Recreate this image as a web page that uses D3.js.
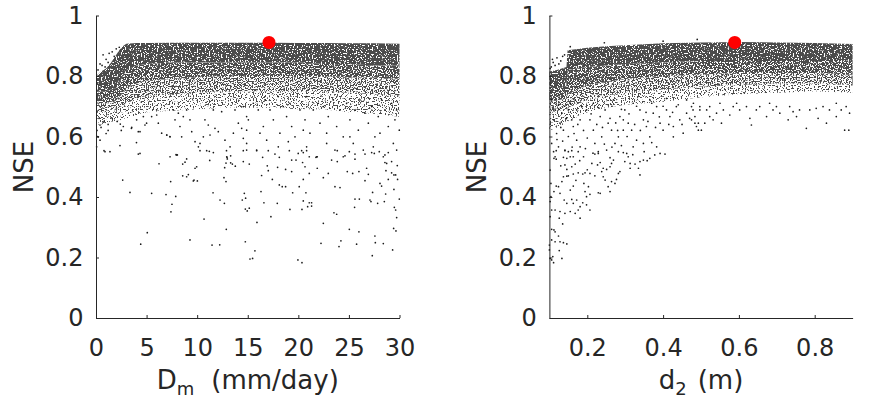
<!DOCTYPE html>
<html>
<head>
<meta charset="utf-8">
<script src="https://cdnjs.cloudflare.com/ajax/libs/d3/7.8.5/d3.min.js"></script>
<style>
  body { margin: 0; background: white; }
  text { font-family: "DejaVu Sans", sans-serif; fill: #262626; }
</style>
</head>
<body>
<svg width="869" height="402"></svg>
<script>
// ticks
const nseTicks = [0, 0.2, 0.4, 0.6, 0.8, 1];
const dmTicks = [0, 5, 10, 15, 20, 25, 30];
const d2Ticks = [0.2, 0.4, 0.6, 0.8];

// best parameter set (red marker)
const dmBest = [17.1, 0.911];
const d2Best = [0.589, 0.911];

// panel 1: outline of the dense cloud, NSE of each density edge along D_m
const dmBandX     = [0, 0.5, 1, 1.5, 2, 2.5, 3, 4, 5, 7.5, 10, 12.5, 15, 17.5, 20, 22.5, 25, 27.5, 30];
const dmBandTop   = [0.80, 0.815, 0.825, 0.845, 0.87, 0.895, 0.907, 0.909, 0.909, 0.91, 0.91, 0.91, 0.91, 0.91, 0.909, 0.909, 0.908, 0.908, 0.907];
const dmBandCore  = [0.75, 0.75, 0.75, 0.755, 0.76, 0.79, 0.82, 0.835, 0.84, 0.845, 0.845, 0.845, 0.845, 0.845, 0.845, 0.84, 0.84, 0.835, 0.835];
const dmBandDense = [0.71, 0.71, 0.71, 0.715, 0.72, 0.74, 0.76, 0.775, 0.785, 0.79, 0.795, 0.80, 0.80, 0.80, 0.80, 0.80, 0.795, 0.795, 0.79];
const dmBandMid   = [0.68, 0.68, 0.685, 0.69, 0.69, 0.70, 0.71, 0.725, 0.735, 0.74, 0.745, 0.75, 0.75, 0.75, 0.75, 0.75, 0.745, 0.74, 0.735];
const dmBandLow   = [0.64, 0.64, 0.645, 0.65, 0.65, 0.655, 0.66, 0.67, 0.68, 0.685, 0.69, 0.695, 0.695, 0.695, 0.69, 0.69, 0.68, 0.675, 0.665];

// panel 1: scattered runs below the cloud [D_m, NSE]
const dmPoints = [
  [0.79,0.553],[1.38,0.550],[4.18,0.542],[7.91,0.540],[8.04,0.539],[10.28,0.553],[10.94,0.553],[11.2,0.551],[11.6,0.547],[12.9,0.553],
  [14.56,0.553],[6.23,0.510],[8.57,0.509],[8.8,0.515],[8.96,0.526],[9.95,0.500],[9.79,0.495],[11.24,0.521],[12.95,0.531],[12.98,0.526],
  [13.31,0.536],[13.31,0.513],[13.48,0.509],[13.77,0.502],[12.85,0.512],[12.72,0.497],[2.64,0.456],[7.38,0.451],[8.57,0.470],[8.96,0.467],
  [9.13,0.474],[9.62,0.453],[9.69,0.456],[10.02,0.453],[12.65,0.464],[12.85,0.451],[3.36,0.415],[5.5,0.412],[6.92,0.408],[7.88,0.402],
  [11.57,0.414],[12.26,0.390],[12.69,0.379],[7.51,0.376],[7.41,0.351],[10.68,0.327],[5.07,0.282],[4.42,0.244],[9.29,0.258],[11.47,0.241],
  [12.23,0.242],[12.88,0.293],
  [14.56,0.517],[15.15,0.509],[15.88,0.553],[16.47,0.531],[17.03,0.553],[17.69,0.542],[18.12,0.531],[19.11,0.553],[19.34,0.522],[19.77,0.522],
  [20.33,0.553],[20.49,0.547],[20.82,0.553],[21.08,0.533],[21.74,0.531],[21.87,0.533],[23.29,0.522],[23.85,0.553],[23.85,0.517],[24.61,0.536],
  [25.04,0.550],[25.6,0.542],[25.6,0.525],[26.59,0.542],[27.25,0.547],[27.51,0.544],[28.0,0.550],[28.56,0.539],[28.89,0.547],[28.56,0.514],
  [28.73,0.511],[29.78,0.504],[29.22,0.517],[16.93,0.503],[17.03,0.487],[17.95,0.498],[18.74,0.491],[19.34,0.484],[20.42,0.514],[20.66,0.500],
  [21.08,0.478],[21.87,0.495],[22.96,0.478],[22.47,0.464],[24.84,0.484],[25.37,0.478],[25.99,0.484],[26.75,0.495],[26.92,0.475],[26.59,0.454],
  [28.66,0.487],[29.22,0.480],[29.45,0.473],[29.62,0.473],[29.81,0.458],[28.89,0.458],[28.07,0.445],[28.23,0.436],[16.37,0.471],[17.43,0.458],
  [18.12,0.440],[18.41,0.434],[18.74,0.434],[20.09,0.434],[20.49,0.458],[19.44,0.414],[20.75,0.414],[23.62,0.434],[24.12,0.431],[27.34,0.415],
  [28.63,0.410],[29.45,0.425],[16.31,0.418],[14.66,0.412],[14.79,0.396],[14.46,0.390],[16.6,0.381],[17.92,0.379],[19.17,0.359],[20.36,0.359],
  [20.49,0.387],[20.92,0.368],[21.08,0.381],[21.31,0.381],[21.31,0.370],[25.6,0.393],[26.03,0.393],[25.56,0.366],[27.08,0.390],[27.18,0.385],
  [27.84,0.379],[28.5,0.385],[29.98,0.393],[14.76,0.360],[14.95,0.354],[15.15,0.363],[29.49,0.366],[29.62,0.357],[29.72,0.332],[23.52,0.348],
  [23.79,0.343],[15.91,0.316],[17.29,0.335],[22.47,0.313],[25.04,0.293],[25.99,0.285],[29.42,0.296],[29.65,0.288],[14.76,0.252],[15.71,0.222],
  [15.22,0.195],[15.48,0.197],[19.96,0.192],[20.36,0.183],[22.24,0.247],[24.21,0.255],[24.02,0.236],[25.76,0.244],[27.57,0.271],[27.61,0.249],
  [28.4,0.246],[29.32,0.225],[27.31,0.206],
  [0.395,0.638],[0.231,0.599],[0.066,0.566],[0.89,0.550],[2.70,0.633],[3.53,0.630],[4.02,0.655],[4.18,0.616],[4.68,0.666],[4.84,0.638],
  [5.50,0.666],[6.0,0.688],[6.16,0.644],[6.49,0.611],[6.99,0.605],[7.32,0.599],[7.64,0.688],[7.81,0.655],[8.14,0.677],[8.30,0.633],
  [8.63,0.666],[8.96,0.688],[9.29,0.655],[9.46,0.616],[9.79,0.583],[10.12,0.566],[10.28,0.577],[10.61,0.599],[10.77,0.655],[11.10,0.638],
  [11.27,0.605],[11.6,0.688],[11.76,0.627],[12.09,0.616],[12.42,0.682],[12.75,0.588],[12.92,0.533],[13.25,0.566],[13.58,0.611],[13.74,0.688],
  [14.07,0.644],[14.40,0.627],[14.56,0.594],[14.89,0.555],[15.06,0.655],[4.35,0.544],[7.32,0.533],[7.97,0.539],
  [14.56,0.699],[14.89,0.666],[15.55,0.710],[16.04,0.688],[16.54,0.633],[16.70,0.721],[17.20,0.688],[17.53,0.655],[18.02,0.732],[18.51,0.699],
  [18.84,0.666],[19.17,0.710],[19.34,0.633],[19.67,0.599],[20.16,0.688],[20.66,0.655],[20.82,0.732],[21.15,0.611],[21.48,0.688],[21.97,0.710],
  [22.14,0.644],[22.47,0.699],[22.96,0.666],[23.46,0.721],[23.79,0.633],[24.12,0.688],[24.44,0.599],[24.77,0.710],[25.10,0.655],[25.60,0.688],
  [25.93,0.621],[26.09,0.721],[26.59,0.677],[26.92,0.644],[27.25,0.699],[27.57,0.599],[27.90,0.666],[28.23,0.721],[28.56,0.688],[28.89,0.633],
  [29.22,0.710],[29.55,0.655],[29.72,0.688],[29.98,0.621],[14.89,0.577],[15.88,0.555],[16.87,0.588],[18.02,0.566],[19.01,0.583],[19.99,0.544],
  [20.82,0.566],[21.81,0.533],[22.80,0.577],[23.62,0.555],[24.44,0.533],[25.43,0.577],[26.42,0.555],[27.41,0.566],[28.40,0.533],[29.39,0.577],
  [14.89,0.621],[16.21,0.611],[18.18,0.611],[20.49,0.621],[22.80,0.611],[25.10,0.599],[28.07,0.611],[29.72,0.555],
  [0.1,0.62],[0.3,0.66],[0.5,0.63],[0.8,0.65],[1.2,0.64],[1.6,0.66],[2.1,0.65],[0.15,0.60],[1.0,0.61],[2.5,0.62],
  [0.4,0.588],[1.2,0.62],[2.4,0.641],[3.5,0.627],[4.35,0.616],[5.0,0.644],[6.0,0.671],[7.0,0.605],[7.3,0.60],[8.47,0.599],
  [2.37,0.570],[4.0,0.58],
  [0.4,0.84],[0.7,0.87],[1.0,0.855],[1.3,0.875],[1.6,0.88],[0.9,0.83],[2.0,0.89],[0.2,0.82],[1.2,0.845],[1.8,0.865],[2.3,0.895],[0.6,0.835]
];

// panel 2: outline of the dense cloud, NSE of each density edge along d2
const d2BandX     = [0.1, 0.12, 0.145, 0.148, 0.2, 0.25, 0.3, 0.4, 0.5, 0.6, 0.7, 0.8, 0.9];
const d2BandTop   = [0.815, 0.82, 0.83, 0.885, 0.893, 0.898, 0.902, 0.908, 0.911, 0.912, 0.911, 0.909, 0.906];
const d2BandCore  = [0.76, 0.76, 0.765, 0.82, 0.83, 0.835, 0.84, 0.845, 0.85, 0.85, 0.85, 0.85, 0.85];
const d2BandDense = [0.72, 0.72, 0.725, 0.74, 0.77, 0.78, 0.79, 0.80, 0.805, 0.81, 0.81, 0.81, 0.805];
const d2BandMid   = [0.68, 0.685, 0.69, 0.695, 0.72, 0.735, 0.745, 0.755, 0.765, 0.77, 0.775, 0.775, 0.77];
const d2BandLow   = [0.62, 0.63, 0.645, 0.65, 0.68, 0.695, 0.705, 0.715, 0.73, 0.74, 0.745, 0.75, 0.745];

// panel 2: scattered runs below the cloud [d2, NSE]
const d2Points = [
  [0.111,0.550],[0.118,0.553],[0.141,0.553],[0.150,0.550],[0.159,0.553],[0.176,0.550],[0.137,0.531],[0.146,0.528],[0.163,0.533],[0.118,0.525],
  [0.112,0.528],[0.130,0.503],[0.141,0.506],[0.146,0.491],[0.159,0.500],[0.168,0.509],[0.137,0.467],[0.133,0.451],[0.146,0.469],[0.163,0.476],
  [0.176,0.480],[0.163,0.436],[0.155,0.423],[0.188,0.476],[0.194,0.480],[0.207,0.478],[0.191,0.445],[0.203,0.434],[0.212,0.511],[0.220,0.542],
  [0.229,0.544],[0.227,0.506],[0.234,0.514],[0.242,0.495],[0.238,0.484],[0.251,0.491],[0.260,0.500],[0.264,0.511],[0.269,0.522],[0.282,0.550],
  [0.295,0.547],[0.299,0.517],[0.308,0.533],[0.313,0.511],[0.326,0.509],[0.339,0.517],[0.348,0.522],[0.358,0.520],[0.365,0.528],[0.378,0.539],
  [0.392,0.544],[0.405,0.542],[0.242,0.467],[0.247,0.456],[0.264,0.451],[0.255,0.434],[0.273,0.445],[0.277,0.458],[0.282,0.478],[0.286,0.484],
  [0.313,0.495],[0.335,0.495],[0.339,0.473],[0.112,0.418],[0.118,0.436],[0.124,0.434],[0.128,0.412],[0.139,0.390],[0.146,0.379],[0.159,0.392],
  [0.163,0.379],[0.172,0.390],[0.181,0.368],[0.188,0.381],[0.198,0.374],[0.207,0.357],[0.194,0.418],[0.207,0.409],[0.229,0.414],[0.234,0.412],
  [0.198,0.401],[0.176,0.357],[0.168,0.346],[0.181,0.330],[0.155,0.352],[0.141,0.346],[0.128,0.352],[0.115,0.357],[0.106,0.357],[0.126,0.330],
  [0.135,0.311],[0.106,0.293],[0.112,0.291],[0.115,0.285],[0.124,0.271],[0.106,0.258],[0.115,0.252],[0.128,0.252],[0.137,0.249],[0.146,0.245],
  [0.126,0.223],[0.109,0.203],[0.106,0.192],[0.111,0.183],[0.133,0.197],[0.102,0.489],[0.104,0.445],[0.104,0.401],[0.102,0.385],[0.102,0.335],
  [0.100,0.241],[0.100,0.225],[0.102,0.197],[0.260,0.418],
  [0.106,0.721],[0.115,0.688],[0.124,0.704],[0.111,0.655],[0.128,0.644],[0.119,0.610],[0.137,0.621],[0.106,0.577],[0.124,0.566],[0.141,0.555],
  [0.115,0.533],[0.155,0.533],[0.150,0.688],[0.159,0.655],[0.163,0.633],[0.172,0.588],[0.181,0.566],[0.190,0.533],[0.198,0.688],[0.207,0.655],
  [0.216,0.621],[0.220,0.577],[0.229,0.550],[0.238,0.599],[0.247,0.688],[0.255,0.644],[0.264,0.621],[0.273,0.577],[0.282,0.599],[0.286,0.666],
  [0.299,0.688],[0.308,0.644],[0.317,0.621],[0.321,0.566],[0.330,0.588],[0.339,0.688],[0.348,0.655],[0.356,0.633],[0.365,0.599],[0.374,0.677],
  [0.383,0.699],[0.392,0.644],[0.400,0.621],[0.409,0.688],[0.418,0.666],[0.427,0.633],[0.435,0.699],[0.444,0.655],[0.453,0.611],[0.462,0.677],
  [0.475,0.699],[0.484,0.644],[0.493,0.621],[0.497,0.688],[0.168,0.721],[0.216,0.710],[0.269,0.721],[0.321,0.710],[0.365,0.721],[0.409,0.726],
  [0.462,0.721],[0.181,0.655],[0.234,0.666],[0.295,0.621],[0.251,0.555],[0.304,0.544],[0.348,0.577],[0.383,0.566],[0.427,0.599],[0.172,0.688],
  [0.133,0.677],
  [0.125,0.69],[0.14,0.70],[0.155,0.71],[0.145,0.66],[0.13,0.63],[0.12,0.59],[0.15,0.60],[0.165,0.61],[0.175,0.64],[0.185,0.70],
  [0.19,0.62],[0.2,0.595],[0.21,0.675],[0.225,0.64],[0.23,0.695],[0.24,0.63],[0.245,0.575],[0.26,0.66],[0.265,0.70],[0.275,0.645],
  [0.28,0.62],[0.29,0.69],[0.295,0.655],[0.305,0.60],[0.31,0.675],[0.325,0.64],[0.33,0.70],[0.34,0.62],[0.355,0.68],[0.36,0.65],
  [0.37,0.71],[0.38,0.63],[0.39,0.665],[0.40,0.70],[0.415,0.64],[0.425,0.68],[0.44,0.705],[0.45,0.64],[0.47,0.66],[0.48,0.71],
  [0.135,0.585],[0.16,0.565],[0.195,0.56],[0.215,0.545],[0.265,0.565],[0.29,0.57],[0.18,0.52],[0.2,0.49],[0.22,0.47],[0.17,0.455],
  [0.15,0.47],[0.26,0.53],[0.35,0.55],[0.37,0.58],[0.32,0.54],
  [0.475,0.655],[0.488,0.633],[0.501,0.621],[0.479,0.688],[0.497,0.699],[0.523,0.666],[0.541,0.677],[0.554,0.644],[0.576,0.671],[0.602,0.688],
  [0.633,0.638],[0.629,0.660],[0.655,0.699],[0.690,0.688],[0.708,0.677],[0.730,0.655],[0.752,0.666],[0.778,0.627],[0.809,0.660],[0.831,0.644],
  [0.857,0.666],[0.879,0.621],[0.890,0.621],[0.892,0.677],[0.883,0.699],[0.857,0.710],[0.822,0.699],[0.787,0.688],[0.760,0.688],[0.734,0.699],
  [0.681,0.710],[0.646,0.688],[0.620,0.699],[0.585,0.699],[0.559,0.688],[0.523,0.699],[0.510,0.644],[0.484,0.666],[0.493,0.644],[0.515,0.688],
  [0.532,0.655],[0.550,0.710],[0.594,0.710],[0.673,0.666],[0.699,0.699],[0.743,0.682],[0.804,0.693],[0.839,0.688],[0.870,0.688],
  [0.105,0.83],[0.11,0.845],[0.12,0.86],[0.13,0.85],[0.115,0.835],[0.125,0.84],[0.135,0.865],[0.14,0.87],[0.102,0.825],[0.108,0.855],
  [0.155,0.897],[0.245,0.91],[0.49,0.921],[0.40,0.915]
];

const svg = d3.select("svg");
svg.append("rect").attr("width", 869).attr("height", 402).attr("fill", "white");

// speckle textures for the dense part of the clouds (darker = lower threshold)
const defs = svg.append("defs");
function speckle(id, threshold, seed) {
  const f = defs.append("filter")
    .attr("id", id)
    .attr("filterUnits", "userSpaceOnUse")
    .attr("x", 0).attr("y", 0).attr("width", 869).attr("height", 402);
  f.append("feTurbulence")
    .attr("type", "fractalNoise")
    .attr("baseFrequency", 0.75)
    .attr("numOctaves", 1)
    .attr("seed", seed)
    .attr("result", "noise");
  f.append("feColorMatrix")
    .attr("in", "noise")
    .attr("type", "matrix")
    .attr("values", "0 0 0 0 0.07  0 0 0 0 0.07  0 0 0 0 0.07  22 0 0 0 " + (-22 * threshold))
    .attr("result", "dots");
  f.append("feComposite").attr("in", "dots").attr("in2", "SourceGraphic").attr("operator", "in");
}
speckle("fCore", 0.37, 3);
speckle("fDense", 0.43, 7);
speckle("fMid", 0.49, 11);
speckle("fLow", 0.55, 19);

function panel(opt) {
  const x = d3.scaleLinear().domain(opt.xDomain).range(opt.xRange);
  const y = d3.scaleLinear().domain([0, 1]).range([318, 15.5]);
  const g = svg.append("g");

  const zone = (hi, lo) => d3.area()
    .x((d, i) => x(opt.bandX[i]))
    .y0((d, i) => y(lo[i]))
    .y1((d, i) => y(hi[i]))(opt.bandX);

  const zones = [
    [opt.top, opt.core, "fCore"],
    [opt.core, opt.dense, "fDense"],
    [opt.dense, opt.mid, "fMid"],
    [opt.mid, opt.low, "fLow"]
  ];
  zones.forEach(z => {
    g.append("path")
      .attr("d", zone(z[0], z[1]))
      .attr("fill", "#000")
      .attr("filter", "url(#" + z[2] + ")");
  });

  g.append("g").selectAll("circle")
    .data(opt.points)
    .join("circle")
    .attr("cx", d => x(d[0]))
    .attr("cy", d => y(d[1]))
    .attr("r", 0.85)
    .attr("fill", "#1a1a1a");

  const fmt = d3.format("~g");
  const ax = g.append("g")
    .attr("transform", "translate(0,318)")
    .call(d3.axisBottom(x).tickValues(opt.ticks).tickFormat(fmt)
      .tickSizeInner(-3).tickSizeOuter(0).tickPadding(21));
  const ay = g.append("g")
    .attr("transform", "translate(" + opt.xRange[0] + ",0)")
    .call(d3.axisLeft(y).tickValues(nseTicks).tickFormat(fmt)
      .tickSizeInner(-3).tickSizeOuter(0).tickPadding(12.5));
  [ax, ay].forEach(a => {
    a.attr("color", "#262626").attr("font-size", null).attr("font-family", null);
    a.selectAll("text").style("font-size", "24px").style("font-family", "'DejaVu Sans'");
    a.selectAll("path, line").attr("stroke", "#262626");
  });

  // best run
  g.append("circle")
    .attr("cx", x(opt.best[0])).attr("cy", y(opt.best[1]))
    .attr("r", 6.5).attr("fill", "#ff0000");

  // labels
  g.append("text")
    .attr("transform", "translate(" + opt.yLabelX + ",167)rotate(-90)")
    .attr("text-anchor", "middle")
    .style("font-size", "26px")
    .text("NSE");

  const xl = g.append("text")
    .attr("x", (opt.xRange[0] + opt.xRange[1]) / 2)
    .attr("y", 389)
    .attr("text-anchor", "middle")
    .style("font-size", "26px");
  xl.append("tspan").text(opt.xMain);
  xl.append("tspan").style("font-size", "18px").attr("dy", 6).text(opt.xSub);
  xl.append("tspan").attr("dy", -6).attr("dx", opt.gap).text(opt.xUnit);
}

panel({
  xDomain: [0, 30], xRange: [96, 399.5], ticks: dmTicks,
  bandX: dmBandX, top: dmBandTop, core: dmBandCore, dense: dmBandDense, mid: dmBandMid, low: dmBandLow,
  points: dmPoints, best: dmBest, yLabelX: 33,
  xMain: "D", xSub: "m", xUnit: "(mm/day)", gap: 17
});
panel({
  xDomain: [0.1, 0.9], xRange: [549.4, 852.6], ticks: d2Ticks,
  bandX: d2BandX, top: d2BandTop, core: d2BandCore, dense: d2BandDense, mid: d2BandMid, low: d2BandLow,
  points: d2Points, best: d2Best, yLabelX: 486,
  xMain: "d", xSub: "2", xUnit: "(m)", gap: 11
});
</script>
</body>
</html>
